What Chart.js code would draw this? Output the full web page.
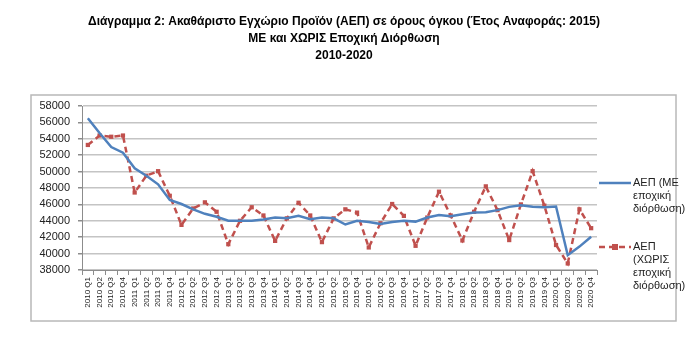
<!DOCTYPE html>
<html lang="el">
<head>
<meta charset="UTF-8">
<title>ΑΕΠ 2010-2020</title>
<script src="https://cdn.jsdelivr.net/npm/chart.js"></script>
<style>
  html, body { margin: 0; padding: 0; background: #fff; }
  #wrap { width: 700px; height: 352px; }
</style>
</head>
<body>
<div id="wrap"><canvas id="chart" width="700" height="352"></canvas></div>
<script>
  const years = ['2010', '2011', '2012', '2013', '2014', '2015', '2016', '2017', '2018', '2019', '2020'];
  const quarters = ['Q1', 'Q2', 'Q3', 'Q4'];
  const categories = [];
  years.forEach(y => quarters.forEach(q => categories.push(y + ' ' + q)));

  // ΑΕΠ με εποχική διόρθωση
  const gdpAdjusted = [
    56500, 54700, 53000, 52300,
    50400, 49500, 48450, 46550,
    46050, 45400, 44850, 44500,
    44000, 44000, 44000, 44150,
    44400, 44300, 44600, 44200,
    44400, 44300, 43550, 44000,
    43850, 43600, 43850, 44000,
    43900, 44400, 44700, 44550,
    44800, 45000, 45050, 45300,
    45700, 45900, 45700, 45650,
    45750, 39800, 40850, 42050
  ];
  // ΑΕΠ χωρίς εποχική διόρθωση
  const gdpRaw = [
    53250, 54400, 54250, 54400,
    47450, 49500, 50050, 47050,
    43500, 45500, 46250, 45100,
    41150, 44000, 45650, 44650,
    41550, 44300, 46200, 44650,
    41400, 44300, 45400, 45000,
    40750, 43700, 46050, 44600,
    40950, 44400, 47550, 44650,
    41600, 45100, 48200, 45300,
    41650, 46000, 50050, 45850,
    41050, 38800, 45400, 43100
  ];
  const yMin = 38000, yMax = 58000, yStep = 2000;

  const titleLines = [
    'Διάγραμμα 2: Ακαθάριστο Εγχώριο Προϊόν (ΑΕΠ) σε όρους όγκου (Έτος Αναφοράς: 2015)',
    'ΜΕ και ΧΩΡΙΣ Εποχική Διόρθωση',
    '2010-2020'
  ];
  const legendLines = [
    ['ΑΕΠ (ΜΕ', 'εποχική', 'διόρθωση)'],
    ['ΑΕΠ', '(ΧΩΡΙΣ', 'εποχική', 'διόρθωση)']
  ];

  const BLUE = '#4F81BD';
  const RED = '#C0504D';
  const FONT = "'Liberation Sans', Arial, sans-serif";

  // grey frame round the chart block + page title above it
  const framePlugin = {
    id: 'frame',
    beforeDraw(chart) {
      const ctx = chart.ctx;
      ctx.save();
      ctx.strokeStyle = '#b8b8b8';
      ctx.lineWidth = 1.5;
      ctx.strokeRect(31, 95, 645, 226);
      ctx.fillStyle = '#000';
      ctx.font = 'bold 12px ' + FONT;
      ctx.textAlign = 'center';
      ctx.textBaseline = 'middle';
      titleLines.forEach((t, i) => ctx.fillText(t, 344, 22 + i * 16.7));
      ctx.restore();
    }
  };

  // legend on the right, wrapped like the original
  const sideLegend = {
    id: 'sideLegend',
    afterDraw(chart) {
      const ctx = chart.ctx;
      const x0 = chart.chartArea.right + 2;
      const tops = [183, 247];
      const sets = chart.data.datasets;
      ctx.save();
      ctx.font = '11px ' + FONT;
      ctx.textBaseline = 'middle';
      sets.forEach((ds, i) => {
        const y = tops[i];
        ctx.strokeStyle = ds.borderColor;
        ctx.lineWidth = 2.5;
        ctx.setLineDash(ds.borderDash || []);
        ctx.beginPath();
        ctx.moveTo(x0, y);
        ctx.lineTo(x0 + 32, y);
        ctx.stroke();
        ctx.setLineDash([]);
        if (ds.pointRadius) {
          ctx.fillStyle = ds.borderColor;
          ctx.fillRect(x0 + 16 - 3, y - 3, 6, 6);
        }
        ctx.fillStyle = '#222';
        legendLines[i].forEach((t, k) => ctx.fillText(t, x0 + 34, y + k * 13));
      });
      ctx.restore();
    }
  };

  new Chart(document.getElementById('chart'), {
    type: 'line',
    data: {
      labels: categories,
      datasets: [
        {
          label: 'ΑΕΠ (ΜΕ εποχική διόρθωση)',
          data: gdpAdjusted,
          borderColor: BLUE,
          backgroundColor: BLUE,
          borderWidth: 2.5,
          pointRadius: 0,
          tension: 0
        },
        {
          label: 'ΑΕΠ (ΧΩΡΙΣ εποχική διόρθωση)',
          data: gdpRaw,
          borderColor: RED,
          backgroundColor: RED,
          borderWidth: 2.5,
          borderDash: [6, 4],
          pointStyle: 'rect',
          pointRadius: 3,
          pointBorderWidth: 0,
          tension: 0
        }
      ]
    },
    options: {
      responsive: false,
      animation: false,
      devicePixelRatio: 1,
      layout: { padding: { left: 30, right: 103, top: 106, bottom: 31 } },
      plugins: {
        legend: { display: false },
        tooltip: { enabled: false },
        title: { display: false }
      },
      scales: {
        x: {
          offset: true,
          afterFit(scale) { scale.height = 51; },
          grid: { offset: true, drawOnChartArea: false, tickLength: 5, color: '#8c8c8c' },
          border: { color: '#8c8c8c' },
          ticks: {
            autoSkip: false,
            minRotation: 90,
            maxRotation: 90,
            padding: 2,
            color: '#222',
            font: { family: FONT, size: 8 }
          }
        },
        y: {
          min: yMin,
          max: yMax,
          afterFit(scale) { scale.width = 52; },
          grid: { color: '#c4c4c4', lineWidth: 1.5, tickLength: 4, tickColor: '#8c8c8c' },
          border: { color: '#8c8c8c' },
          ticks: {
            stepSize: yStep,
            padding: 8,
            color: '#222',
            font: { family: FONT, size: 11 },
            callback: v => String(v)
          }
        }
      }
    },
    plugins: [framePlugin, sideLegend]
  });
</script>
</body>
</html>
